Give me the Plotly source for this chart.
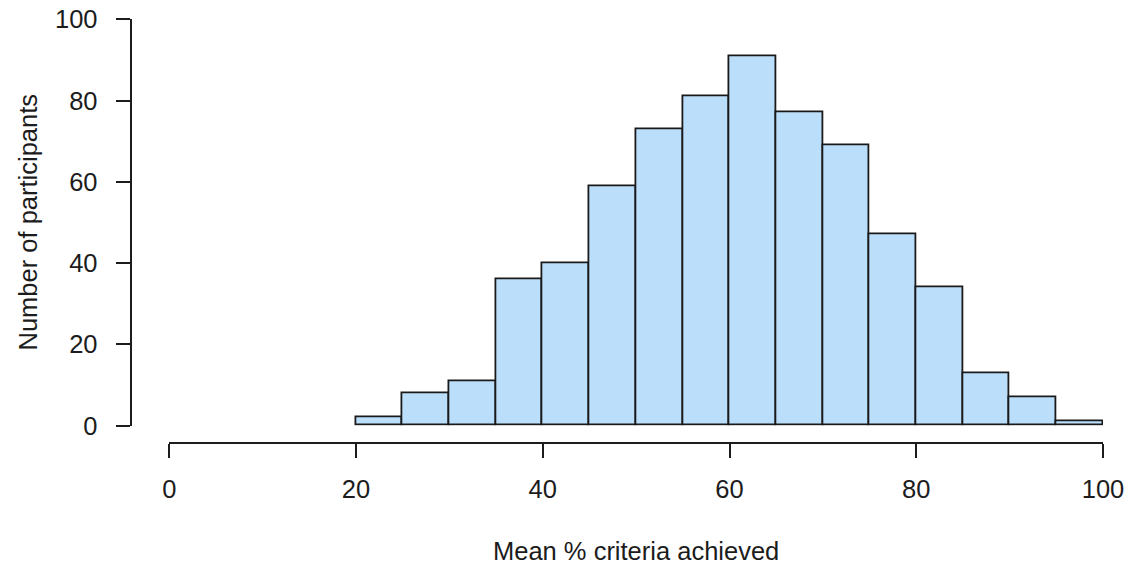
import plotly.graph_objects as go

# Histogram of mean % criteria achieved (bins of width 5)
bin_edges = [20, 25, 30, 35, 40, 45, 50, 55, 60, 65, 70, 75, 80, 85, 90, 95, 100]
counts = [2, 8, 11, 36, 40, 59, 73, 81, 91, 77, 69, 47, 34, 13, 7, 1]
x_ticks = [0, 20, 40, 60, 80, 100]
y_ticks = [0, 20, 40, 60, 80, 100]

x_title = "Mean % criteria achieved"
y_title = "Number of participants"

W, H = 1132, 572
FONT = "Liberation Sans, Arial, sans-serif"
INK = "#1c1c1c"
FS = 25.5

centers = [(a + b) / 2 for a, b in zip(bin_edges[:-1], bin_edges[1:])]
widths = [b - a for a, b in zip(bin_edges[:-1], bin_edges[1:])]

fig = go.Figure(
    go.Bar(
        x=centers,
        y=counts,
        width=widths,
        marker=dict(color="#bbdefb", line=dict(color="#1a1a1a", width=1.8)),
        hoverinfo="x+y",
    )
)

# plot region in pixels (R-style detached axes)
x0_px, x1_px = 169.3, 1103
y0_px, y1_px = 425.7, 19.3
xaxis_y_px = 442.7
yaxis_x_px = 131

axis_common = dict(
    showline=True,
    linecolor=INK,
    linewidth=1.8,
    ticks="outside",
    ticklen=14.5,
    tickwidth=1.8,
    tickcolor=INK,
    showgrid=False,
    zeroline=False,
    tickfont=dict(family=FONT, size=FS, color=INK),
    anchor="free",
    automargin=False,
)

fig.update_layout(
    width=W,
    height=H,
    margin=dict(l=0, r=0, t=0, b=0, autoexpand=False),
    paper_bgcolor="white",
    plot_bgcolor="white",
    showlegend=False,
    bargap=0,
    xaxis=dict(
        domain=[x0_px / W, x1_px / W],
        range=[0, 100],
        tickvals=x_ticks,
        position=(H - xaxis_y_px) / H,
        ticklabelstandoff=9,
        **axis_common,
    ),
    yaxis=dict(
        domain=[(H - y0_px) / H, (H - y1_px) / H],
        range=[0, 100],
        tickvals=y_ticks,
        position=yaxis_x_px / W,
        ticklabelstandoff=13,
        **axis_common,
    ),
    annotations=[
        dict(
            text=x_title, xref="paper", yref="paper",
            x=(x0_px + x1_px) / 2 / W, y=(H - 551) / H,
            showarrow=False, xanchor="center", yanchor="middle",
            font=dict(family=FONT, size=FS, color=INK),
        ),
        dict(
            text=y_title, xref="paper", yref="paper",
            x=28 / W, y=(H - (y0_px + y1_px) / 2) / H,
            showarrow=False, xanchor="center", yanchor="middle", textangle=-90,
            font=dict(family=FONT, size=FS, color=INK),
        ),
    ],
)

fig.write_html("out.html")
